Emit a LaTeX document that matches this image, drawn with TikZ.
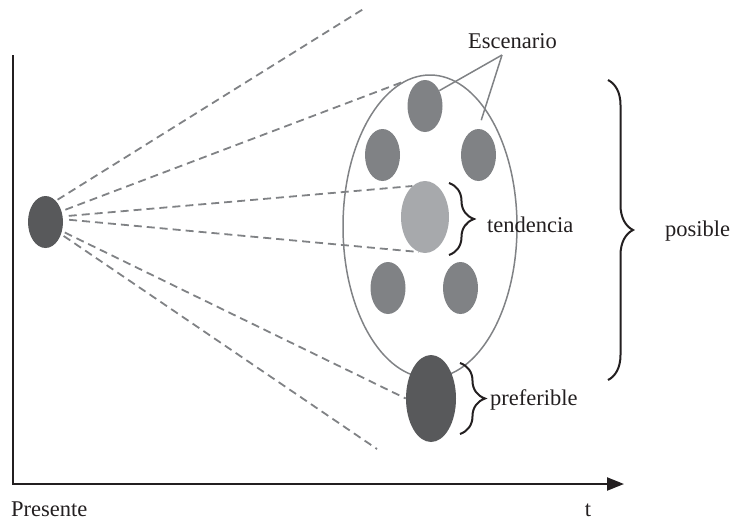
\documentclass[tikz,border=0pt]{standalone}
\usepackage{fontspec}
\setmainfont{Liberation Serif}
\usetikzlibrary{positioning, arrows.meta, shapes.geometric, decorations.pathreplacing}
\definecolor{oscuro}{HTML}{58595B}
\definecolor{medio}{HTML}{808285}
\definecolor{claro}{HTML}{A7A9AC}
\definecolor{tinta}{HTML}{231F20}
\pgfdeclarelayer{fondo}
\pgfsetlayers{fondo,main}

\begin{document}
\begin{tikzpicture}[x=1pt, y=-1pt,
    punto/.style={ellipse, fill=#1, draw=none, inner sep=0pt, minimum width=35pt, minimum height=52pt},
    rayo/.style={medio, line width=1.8pt, dash pattern=on 8pt off 5pt},
    guia/.style={medio, line width=1.5pt},
    llave/.style={tinta, line width=2pt, decorate, decoration={brace, amplitude=25pt}},
    etiqueta/.style={font=\fontsize{22.5}{26}\selectfont, inner sep=0pt, text=tinta}]
  \useasboundingbox (0,0) rectangle (733,523);
  % Ejes
  \draw[tinta, line width=2.2pt, -{Triangle[length=17pt, width=13pt]}] (13,55) -- (13,484) -- (624,484);
  % Presente y conjunto de escenarios
  \node[punto=oscuro] (presente) at (45.5,222) {};
  \node[ellipse, draw=medio, line width=1.5pt, inner sep=0pt, minimum width=174pt, minimum height=303pt] (posible) at (430,226.5) {};
  \node[punto=medio] (arriba) at (425,106) {};
  \node[punto=medio] (izq) at (382.5,155) {};
  \node[punto=medio] (der) at (478.5,155) {};
  \node[punto=claro, minimum width=48pt, minimum height=72pt] (tendencia) at (425,217) {};
  \node[punto=medio] (abizq) at (388,288) {};
  \node[punto=medio] (abder) at (460.5,288) {};
  \node[punto=oscuro, minimum width=50pt, minimum height=87pt] (preferible) at (431,398.5) {};
  % Rayos desde el presente
  \coordinate (fin1) at (365,8);
  \coordinate (fin2) at (377,449);
  \begin{pgfonlayer}{fondo}
    \draw[rayo, shorten <=2pt] (presente.64) -- (fin1);
    \draw[rayo, shorten <=4pt] (presente.34) -- (posible.101);
    \draw[rayo, shorten <=6pt] (presente.18) -- (tendencia.112);
    \draw[rayo, shorten <=6pt] (presente.9) -- (tendencia.-100);
    \draw[rayo, shorten <=3pt] (presente.-29) -- (preferible.west);
    \draw[rayo, shorten <=3pt] (presente.-38) -- (fin2);
  \end{pgfonlayer}
  % Escenario
  \node[etiqueta, anchor=base] (escenario) at (512.5,48) {Escenario};
  \coordinate (vertice) at (502,55);
  \draw[guia] (vertice) -- (arriba.47);
  \draw[guia, shorten >=9pt] (vertice) -- (der.north);
  % Llaves
  \draw[llave] (449,183) -- (449,255);
  \draw[llave] (608,80) -- (608,380);
  \draw[llave] (460,363) -- (460,434);
  \node[etiqueta, anchor=base west] (tend) at (487,232) {tendencia};
  \node[etiqueta, anchor=base west] (pos) at (665,236) {posible};
  \node[etiqueta, anchor=base west] (pref) at (490,405) {preferible};
  % Eje temporal
  \node[etiqueta, anchor=base west] (pres) at (11,516) {Presente};
  \node[etiqueta, anchor=base] (tiempo) at (588,516) {t};
\end{tikzpicture}
\end{document}
